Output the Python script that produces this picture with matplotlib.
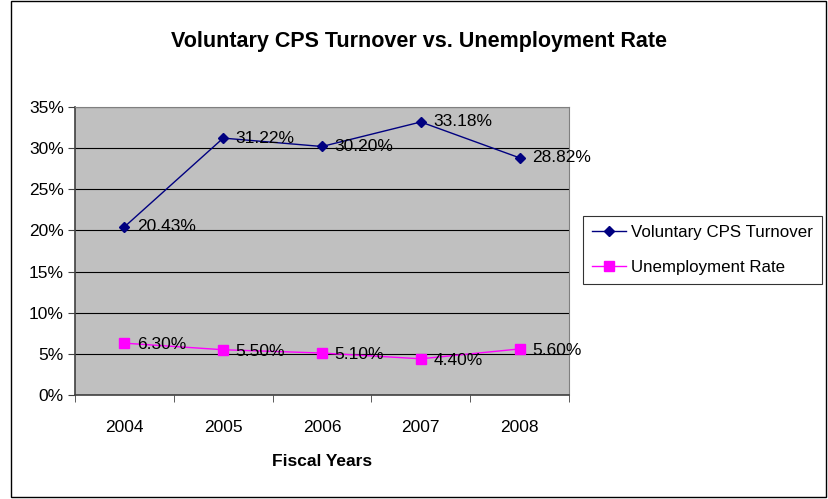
import matplotlib
matplotlib.use("Agg")
import matplotlib.pyplot as plt
from matplotlib.patches import Rectangle
from matplotlib.ticker import FuncFormatter, MultipleLocator

years = ["2004", "2005", "2006", "2007", "2008"]
turnover = [20.43, 31.22, 30.20, 33.18, 28.82]
unemployment = [6.30, 5.50, 5.10, 4.40, 5.60]

plt.rcParams['font.family'] = ['Liberation Sans', 'DejaVu Sans']

fig = plt.figure(figsize=(8.29, 4.99), dpi=100)
fig.patches.append(Rectangle((11/829, 2/499), 815/829, 496/499, transform=fig.transFigure,
                             fill=False, edgecolor='black', linewidth=1.0))

ax = fig.add_axes([75/829, 1-395/499, 494/829, 288/499])
ax.set_facecolor('#C0C0C0')
x = list(range(len(years)))
ax.plot(x, turnover, color='#000080', marker='D', markersize=5.5, linewidth=1.0,
        label='Voluntary CPS Turnover')
ax.plot(x, unemployment, color='#FF00FF', marker='s', markersize=6.5, linewidth=1.0,
        label='Unemployment Rate')

for xi, v in zip(x, turnover):
    ax.annotate(f"{v:.2f}%", (xi, v), xytext=(9, 0), textcoords='offset points',
                va='center', ha='left', fontsize=12.5)
for xi, v in zip(x, unemployment):
    ax.annotate(f"{v:.2f}%", (xi, v), xytext=(9, -1), textcoords='offset points',
                va='center', ha='left', fontsize=12.5)

ax.set_xlim(-0.5, 4.5)
ax.set_ylim(0, 35)
ax.yaxis.set_major_locator(MultipleLocator(5))
ax.yaxis.set_major_formatter(FuncFormatter(lambda v, p: f"{v:.0f}%"))
ax.set_xticks(x)
ax.set_xticklabels(years)
ax.set_xticks([i - 0.5 for i in range(len(years) + 1)], minor=True)
ax.tick_params(axis='x', which='major', length=0, pad=18, labelsize=12.5)
ax.tick_params(axis='x', which='minor', length=5, color='#404040')
ax.tick_params(axis='y', length=5, color='#404040', labelsize=12.5, direction='out', pad=3)
ax.grid(axis='y', color='black', linewidth=0.8)
ax.set_axisbelow(True)
for s in ['top', 'right']:
    ax.spines[s].set_color('#808080')
for s in ['left', 'bottom']:
    ax.spines[s].set_color('#404040')
    ax.spines[s].set_linewidth(1.2)

ax.set_xlabel("Fiscal Years", fontsize=12.5, fontweight='bold', labelpad=14)
fig.text(419/829, 1-42/499, "Voluntary CPS Turnover vs. Unemployment Rate",
         ha='center', va='center', fontsize=15.5, fontweight='bold')

leg = fig.legend(loc='upper left', bbox_to_anchor=(583/829, 1-216/499), fontsize=12.2,
                 frameon=True, fancybox=False, edgecolor='black', handlelength=2.0,
                 borderaxespad=0, handletextpad=0.3, labelspacing=1.15, borderpad=0.55)
leg.get_frame().set_linewidth(0.8)

fig.savefig("out.png", dpi=100)
